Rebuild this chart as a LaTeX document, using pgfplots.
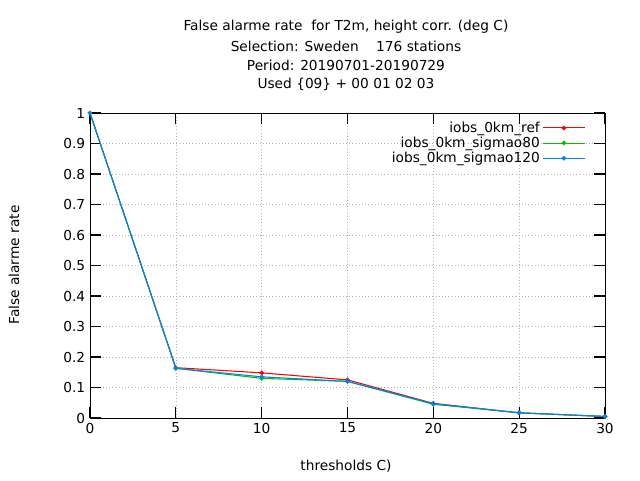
\documentclass[border=0pt]{standalone}
\usepackage{pgfplots}
\pgfplotsset{compat=1.18}
\usepackage{fontspec}
\setmainfont{DejaVu Sans}
\definecolor{gred}{RGB}{255,0,0}
\definecolor{ggreen}{RGB}{0,192,0}
\definecolor{gblue}{RGB}{0,128,255}
\begin{document}
\fontsize{10.3}{12}\selectfont
\begin{tikzpicture}
\path (0,0) rectangle (480pt,360pt);
\begin{axis}[scale only axis, width=386.25pt, height=228.75pt,
  at={(67.5pt,46.5pt)}, anchor=south west,
  xmin=0, xmax=30, ymin=0, ymax=1,
  xtick={0,5,...,30}, ytick={0,0.1,...,1},
  yticklabels={0,0.1,0.2,0.3,0.4,0.5,0.6,0.7,0.8,0.9,1},
  grid=major, grid style={gray!60, dotted},
  major tick length=8pt, tick style={black, thick},
  /pgf/number format/assume math mode=true,
  ticklabel style={font=\fontsize{10.3}{12}\selectfont},
  legend style={draw=none, fill=none, at={(0.97,0.99)}, anchor=north east, font=\fontsize{10.3}{12}\selectfont, cells={anchor=east}, row sep=-2pt},
  legend plot pos=right,
  legend image code/.code={\draw[#1] (0cm,0cm) -- (1.1cm,0cm); \path[#1] plot coordinates {(0.55cm,0cm)};},
]
\addplot[gred, thick, mark=*, mark size=1.3] coordinates {(0,1)(5,0.165)(10,0.148)(15,0.125)(20,0.048)(25,0.017)(30,0.005)};
\addlegendentry{iobs\_0km\_ref}
\addplot[ggreen, thick, mark=*, mark size=1.3] coordinates {(0,1)(5,0.163)(10,0.130)(15,0.120)(20,0.045)(25,0.017)(30,0.005)};
\addlegendentry{iobs\_0km\_sigmao80}
\addplot[gblue, thick, mark=*, mark size=1.3] coordinates {(0,1)(5,0.163)(10,0.135)(15,0.120)(20,0.047)(25,0.017)(30,0.005)};
\addlegendentry{iobs\_0km\_sigmao120}
\end{axis}
\node at (259.5pt,339.75pt) {False alarme rate\ \ for T2m, height corr. (deg C)};
\node at (259.5pt,325.5pt) {Selection: Sweden\ \ \ \ 176 stations};
\node at (259.5pt,311.25pt) {Period: 20190701-20190729};
\node at (259.5pt,297pt) {Used \{09\} + 00 01 02 03};
\node[rotate=90] at (10.5pt,161.25pt) {False alarme rate};
\node at (259.5pt,10.5pt) {thresholds C)};
\end{tikzpicture}
\end{document}
